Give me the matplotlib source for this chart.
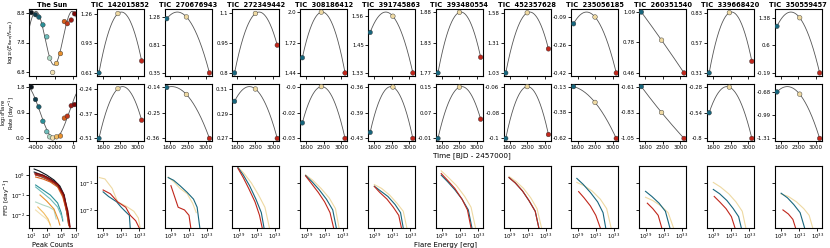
import numpy as np
import matplotlib
matplotlib.use("Agg")
import matplotlib.pyplot as plt
from matplotlib.colors import LinearSegmentedColormap
from matplotlib.ticker import NullFormatter, NullLocator, FixedLocator, FixedFormatter

plt.rcParams['font.family'] = ['DejaVu Sans']
plt.rcParams['axes.unicode_minus'] = False

# ---------------- data ----------------
sun_time = [-4500, -4050, -3690, -3260, -2840, -2530, -2210, -1790, -1370, -950, -630, -210, 150]
sun_logE = [8.80, 8.73, 8.65, 8.39, 7.99, 7.28, 6.80, 7.10, 7.43, 8.50, 8.43, 8.55, 8.76]
sun_logR = [1.80, 1.36, 1.10, 0.59, 0.22, 0.04, 0.00, 0.04, 0.07, 0.70, 0.77, 1.14, 1.18]

tic_ids = ['142015852', '270676943', '272349442', '308186412', '391745863', '393480554',
           '452357628', '235056185', '260351540', '339668420', '350559457']
tic_time = [[1440, 2200, 3150], [1490, 2250, 3140], [1490, 2300, 3150], [1440, 2200, 3150],
            [1440, 2350, 3150], [1440, 2300, 3150], [1440, 2300, 3150], [1440, 2300, 3150],
            [1440, 2250, 3150], [1440, 2250, 3150], [1440, 2350, 3150]]
tic_logE = [[0.608, 1.26, 0.74], [1.25, 1.28, 0.348], [0.80, 1.10, 0.94], [1.58, 2.00, 1.44],
            [1.495, 1.56, 1.332], [1.772, 1.88, 1.80], [1.03, 1.58, 1.25], [-0.13, -0.09, -0.42],
            [1.09, 0.80, 0.462], [0.31, 0.83, 0.41], [1.14, 1.384, -0.186]]
tic_logR = [[-0.508, -0.24, -0.41], [-0.14, -0.17, -0.36], [0.30, 0.31, 0.27], [-0.025, -0.004, -0.034],
            [-0.42, -0.36, -0.428], [-0.01, 0.15, 0.05], [-0.10, -0.06, -0.097], [-0.13, -0.28, -0.622],
            [-0.61, -0.83, -1.05], [-0.54, -0.28, -0.80], [-0.68, -0.71, -1.306]]

# Sun flare frequency distributions (log10 peak counts, log10 rate), ordered in time
sun_ffd_logx = [[1.3, 2.0, 3.0, 4.0, 4.8, 5.4, 5.8, 6.1],
                [1.3, 2.0, 3.0, 4.0, 4.8, 5.4, 5.8, 6.1],
                [1.5, 2.0, 3.0, 4.0, 4.8, 5.4, 5.8, 6.0],
                [1.5, 2.5, 3.5, 4.5, 5.0, 5.2],
                [1.5, 2.5, 3.5, 4.5, 5.2],
                [1.5, 2.5, 3.3, 4.0, 4.3],
                [1.5, 2.3, 3.0, 3.4, 3.6],
                [1.8, 2.6, 3.2, 3.5],
                [2.1, 3.0, 4.0, 4.6, 4.8],
                [1.5, 2.5, 3.5, 4.5, 5.2, 5.7, 6.0],
                [1.5, 2.5, 3.5, 4.5, 5.2, 5.8, 6.1],
                [1.4, 2.5, 3.5, 4.5, 5.3, 5.8, 6.15],
                [1.4, 2.5, 3.5, 4.5, 5.3, 5.9, 6.2]]
sun_ffd_logy = [[0.3, 0.2, 0.0, -0.25, -0.55, -1.0, -1.8, -2.5],
                [0.15, 0.05, -0.1, -0.3, -0.6, -1.1, -1.9, -2.5],
                [0.0, -0.05, -0.2, -0.4, -0.7, -1.2, -2.0, -2.5],
                [-0.5, -0.75, -1.0, -1.4, -1.9, -2.3],
                [-0.6, -0.9, -1.2, -1.6, -2.2],
                [-1.35, -1.5, -1.6, -1.75, -2.2],
                [-1.75, -2.0, -2.2, -2.4, -2.6],
                [-1.6, -1.9, -2.2, -2.5],
                [-1.0, -1.3, -1.7, -2.25, -2.5],
                [-0.1, -0.2, -0.35, -0.6, -1.1, -1.8, -2.5],
                [0.0, -0.1, -0.3, -0.5, -1.0, -1.9, -2.6],
                [0.05, -0.05, -0.25, -0.5, -1.0, -1.8, -2.6],
                [0.1, 0.0, -0.2, -0.45, -0.95, -1.8, -2.6]]

# TIC FFDs: log10 flare energy and log10 cumulative rate, per star, for the blue / yellow / red epochs
ffd_blue_x = [[29.0, 29.6, 30.5, 31.0, 31.5, 31.9, 32.0],
              [28.7, 29.3, 30.0, 30.8, 31.5, 31.9, 32.2],
              [28.9, 29.5, 30.2, 30.9, 31.5, 31.8],
              [28.9, 29.6, 30.4, 31.2, 31.9, 32.3],
              [29.0, 29.7, 30.5, 31.3, 31.9, 32.2],
              [28.9, 29.6, 30.4, 31.2, 31.9, 32.3],
              [28.9, 29.6, 30.4, 31.1, 31.8, 32.2],
              [28.9, 29.6, 30.4, 31.2, 31.8, 32.1],
              [29.0, 29.7, 30.5, 31.2, 31.7],
              [29.0, 29.7, 30.5, 31.2, 31.8, 32.1],
              [29.0, 29.7, 30.4, 31.1, 31.6]]
ffd_blue_y = [[-1.33, -1.5, -1.7, -1.9, -2.07, -2.2, -2.67],
              [-0.8, -0.9, -1.1, -1.35, -1.6, -1.9, -2.67],
              [-0.42, -0.7, -1.1, -1.6, -2.1, -2.67],
              [-0.72, -0.95, -1.25, -1.6, -2.0, -2.67],
              [-1.12, -1.3, -1.5, -1.8, -2.1, -2.67],
              [-0.71, -0.95, -1.25, -1.6, -2.0, -2.67],
              [-0.80, -1.0, -1.3, -1.65, -2.05, -2.67],
              [-0.83, -1.05, -1.35, -1.7, -2.1, -2.67],
              [-1.31, -1.5, -1.75, -2.05, -2.67],
              [-1.24, -1.4, -1.65, -1.95, -2.25, -2.67],
              [-1.38, -1.55, -1.8, -2.1, -2.67]]
ffd_yel_x = [[28.6, 29.2, 30.0, 30.6, 31.5, 32.4, 32.9, 33.1],
             [28.7, 29.3, 30.0, 30.8, 31.4, 31.8],
             [28.9, 29.6, 30.4, 31.2, 31.9, 32.4],
             [28.9, 29.7, 30.6, 31.5, 32.2, 32.6],
             [29.0, 29.8, 30.7, 31.5, 32.2, 32.6],
             [28.9, 29.7, 30.6, 31.5, 32.2, 32.7],
             [28.9, 29.7, 30.5, 31.3, 32.0, 32.5],
             [28.9, 29.7, 30.6, 31.5, 32.2, 32.7],
             [29.0, 29.8, 30.7, 31.5, 32.1],
             [29.0, 29.8, 30.7, 31.5, 32.2, 32.6],
             [29.0, 29.8, 30.7, 31.5, 32.1, 32.5]]
ffd_yel_y = [[-0.8, -0.85, -1.2, -1.7, -1.85, -2.05, -2.3, -2.67],
             [-0.78, -0.95, -1.2, -1.4, -1.75, -2.1],
             [-0.40, -0.65, -1.0, -1.45, -1.9, -2.67],
             [-0.70, -0.9, -1.2, -1.55, -1.95, -2.67],
             [-1.06, -1.2, -1.45, -1.75, -2.05, -2.67],
             [-0.55, -0.8, -1.1, -1.5, -1.9, -2.67],
             [-0.76, -0.95, -1.2, -1.55, -1.95, -2.67],
             [-0.98, -1.1, -1.3, -1.6, -1.95, -2.67],
             [-1.53, -1.65, -1.85, -2.1, -2.67],
             [-0.98, -1.15, -1.4, -1.7, -2.05, -2.67],
             [-1.41, -1.5, -1.7, -1.95, -2.2, -2.67]]
ffd_red_x = [[29.0, 29.8, 30.6, 31.5, 32.0, 32.6, 33.0],
             [29.0, 29.5, 29.8, 30.5, 31.0, 31.2],
             [28.9, 29.5, 30.1, 30.8, 31.3, 31.6],
             [28.9, 29.5, 30.3, 31.0, 31.6, 32.0],
             [29.0, 29.6, 30.4, 31.1, 31.7, 32.0],
             [28.9, 29.6, 30.4, 31.2, 31.8, 32.2],
             [28.9, 29.6, 30.4, 31.1, 31.8, 32.2],
             [29.1, 29.7, 30.4, 31.0, 31.5],
             [29.2, 29.8, 30.4, 30.8],
             [29.1, 29.7, 30.4, 31.0, 31.4],
             [29.2, 29.8, 30.3, 30.6]]
ffd_red_y = [[-1.26, -1.4, -1.7, -1.9, -2.2, -2.4, -2.67],
             [-1.1, -1.6, -1.9, -2.0, -2.2, -2.67],
             [-0.45, -0.8, -1.2, -1.7, -2.2, -2.67],
             [-0.74, -1.0, -1.35, -1.7, -2.1, -2.67],
             [-1.13, -1.35, -1.6, -1.9, -2.2, -2.67],
             [-0.65, -0.9, -1.2, -1.6, -2.0, -2.67],
             [-0.80, -1.0, -1.3, -1.65, -2.05, -2.67],
             [-1.32, -1.55, -1.85, -2.2, -2.67],
             [-1.75, -1.95, -2.2, -2.67],
             [-1.5, -1.7, -1.95, -2.25, -2.67],
             [-2.0, -2.15, -2.35, -2.67]]
ffd_xticks = [[29, 31, 33]] * 11

# ---------------- style ----------------
cmap = LinearSegmentedColormap.from_list('epoch', ['#0b141c', '#0f4f63', '#2a8f98', '#8fd3cb',
                                                    '#f2e2b4', '#f0a838', '#d8601a', '#b52418', '#7a0808'])
c_blue, c_yel, c_red = '#17667d', '#eed9a2', '#c0261b'
curve_c = '#555555'
W, H = 830, 248
fig = plt.figure(figsize=(W / 100, H / 100), dpi=100)

lefts = [29 + 67.8 * i for i in range(12)]
rows = [(9, 76), (84, 141), (166, 228)]
pw = 47
TS = 3.9


def add_ax(i, r, **kw):
    y0, y1 = rows[r]
    return fig.add_axes([lefts[i] / W, 1 - y1 / H, pw / W, (y1 - y0) / H], **kw)


def style(ax):
    for s in ax.spines.values():
        s.set_linewidth(0.8)
    ax.tick_params(direction='out', length=2, width=0.6, labelsize=TS, pad=1)
    ax.tick_params(which='minor', length=0)


def data_ticks(ax, v):
    lo, hi = min(v), max(v)
    tk = [lo, (lo + hi) / 2, hi]
    ax.yaxis.set_major_locator(FixedLocator(tk))
    ax.yaxis.set_major_formatter(FixedFormatter([str(round(t, 2)) for t in tk]))


def sine_fit(t, y, tt):
    t = np.asarray(t, float); y = np.asarray(y, float)
    best = None
    for P in np.linspace(3000, 8000, 501):
        A = np.column_stack([np.ones_like(t), np.sin(2 * np.pi * t / P), np.cos(2 * np.pi * t / P)])
        coef = np.linalg.lstsq(A, y, rcond=None)[0]
        r = np.sum((A @ coef - y) ** 2)
        if best is None or r < best[0]:
            best = (r, P, coef)
    _, P, c = best
    return c[0] + c[1] * np.sin(2 * np.pi * tt / P) + c[2] * np.cos(2 * np.pi * tt / P)


sun_cols = [cmap(k / (len(sun_time) - 1)) for k in range(len(sun_time))]
sun_xlim = (-4750, 300)
tt = np.linspace(*sun_xlim, 300)

# ---- Sun top & middle ----
for r, vals, lab, lx, fs in [(0, sun_logE, r'log$_{10}$($E_{\rm flare}/f_{\rm max}$)', -0.30, 4.0),
                             (1, sun_logR, 'log$_{10}$Flare\nRate [day$^{-1}$]', -0.245, 3.7)]:
    ax = add_ax(0, r)
    style(ax)
    ax.plot(tt, sine_fit(sun_time, vals, tt), color=curve_c, lw=0.6, zorder=1)
    ax.scatter(sun_time, vals, c=sun_cols, s=11, edgecolors='#333333', linewidths=0.3, zorder=3)
    ax.set_xlim(*sun_xlim)
    rng = max(vals) - min(vals)
    ax.set_ylim(min(vals) - 0.06 * rng, max(vals) + 0.06 * rng)
    data_ticks(ax, vals)
    ax.set_xticks([-4000, -2000, 0])
    if r == 0:
        ax.set_title('The Sun', fontsize=4.8, fontweight='bold', pad=1.5)
        ax.xaxis.set_major_formatter(NullFormatter())
    ax.set_ylabel(lab, fontsize=fs, linespacing=0.9)
    ax.yaxis.set_label_coords(lx, 0.5)

# ---- TIC top & middle ----
for i, tic in enumerate(tic_ids):
    for r, vals in [(0, tic_logE[i]), (1, tic_logR[i])]:
        ax = add_ax(i + 1, r)
        style(ax)
        t = tic_time[i]
        p = np.polyfit(t, vals, 2)
        tc = np.linspace(t[0], t[-1], 200)
        ax.plot(tc, np.polyval(p, tc), color=curve_c, lw=0.6, zorder=1)
        ax.scatter(t, vals, c=[c_blue, c_yel, c_red], s=11, edgecolors='#333333', linewidths=0.3, zorder=3)
        ax.set_xticks([1600, 2300, 3000])
        data_ticks(ax, vals)
        if r == 0:
            ax.set_title('TIC  ' + tic, fontsize=4.8, fontweight='bold', pad=1.5)
            ax.xaxis.set_major_formatter(NullFormatter())

# ---- bottom row: FFDs ----
ax = add_ax(0, 2)
style(ax)
for k in range(len(sun_ffd_logx)):
    ax.plot(10 ** np.array(sun_ffd_logx[k]), 10 ** np.array(sun_ffd_logy[k]), color=sun_cols[k], lw=0.8)
ax.set_xscale('log'); ax.set_yscale('log')
ax.set_xlim(10 ** 0.6, 10 ** 7)
ax.set_ylim(10 ** -2.65, 10 ** 0.45)
ax.xaxis.set_major_locator(FixedLocator([1e1, 1e3, 1e5, 1e7]))
ax.yaxis.set_major_locator(FixedLocator([1e-2, 1e-1, 1e0]))
ax.xaxis.set_minor_locator(NullLocator()); ax.yaxis.set_minor_locator(NullLocator())
ax.set_xlabel('Peak Counts', fontsize=4.8, labelpad=0.5)
ax.set_ylabel('FFD [day$^{-1}$]', fontsize=4.3)
ax.yaxis.set_label_coords(-0.36, 0.5)

first = None
for i in range(len(tic_ids)):
    ax = add_ax(i + 1, 2, sharey=first) if first is not None else add_ax(i + 1, 2)
    style(ax)
    ax.tick_params(axis='x', pad=0.5)
    for xs, ys, c in [(ffd_yel_x[i], ffd_yel_y[i], c_yel), (ffd_blue_x[i], ffd_blue_y[i], c_blue),
                      (ffd_red_x[i], ffd_red_y[i], c_red)]:
        ax.plot(10 ** np.array(xs), 10 ** np.array(ys), color=c, lw=0.8)
    ax.set_xscale('log'); ax.set_yscale('log')
    ax.xaxis.set_major_locator(FixedLocator([10.0 ** e for e in ffd_xticks[i]]))
    ax.xaxis.set_minor_locator(NullLocator())
    ax.set_xlim(10 ** (ffd_xticks[i][0] - 0.7), 10 ** (ffd_xticks[i][-1] + 0.5))
    if first is None:
        first = ax
        ax.set_ylim(10 ** -2.67, 10 ** -0.37)
        ax.yaxis.set_major_locator(FixedLocator([1e-2, 1e-1]))
        ax.yaxis.set_minor_locator(NullLocator())
    else:
        ax.tick_params(labelleft=False)

fig.text(472 / W, 1 - 156 / H, 'Time [BJD - 2457000]', fontsize=5.2, ha='center', va='center')
fig.text(445 / W, 1 - 244.5 / H, 'Flare Energy [erg]', fontsize=5.0, ha='center', va='center')

fig.savefig('out.png', dpi=100)
